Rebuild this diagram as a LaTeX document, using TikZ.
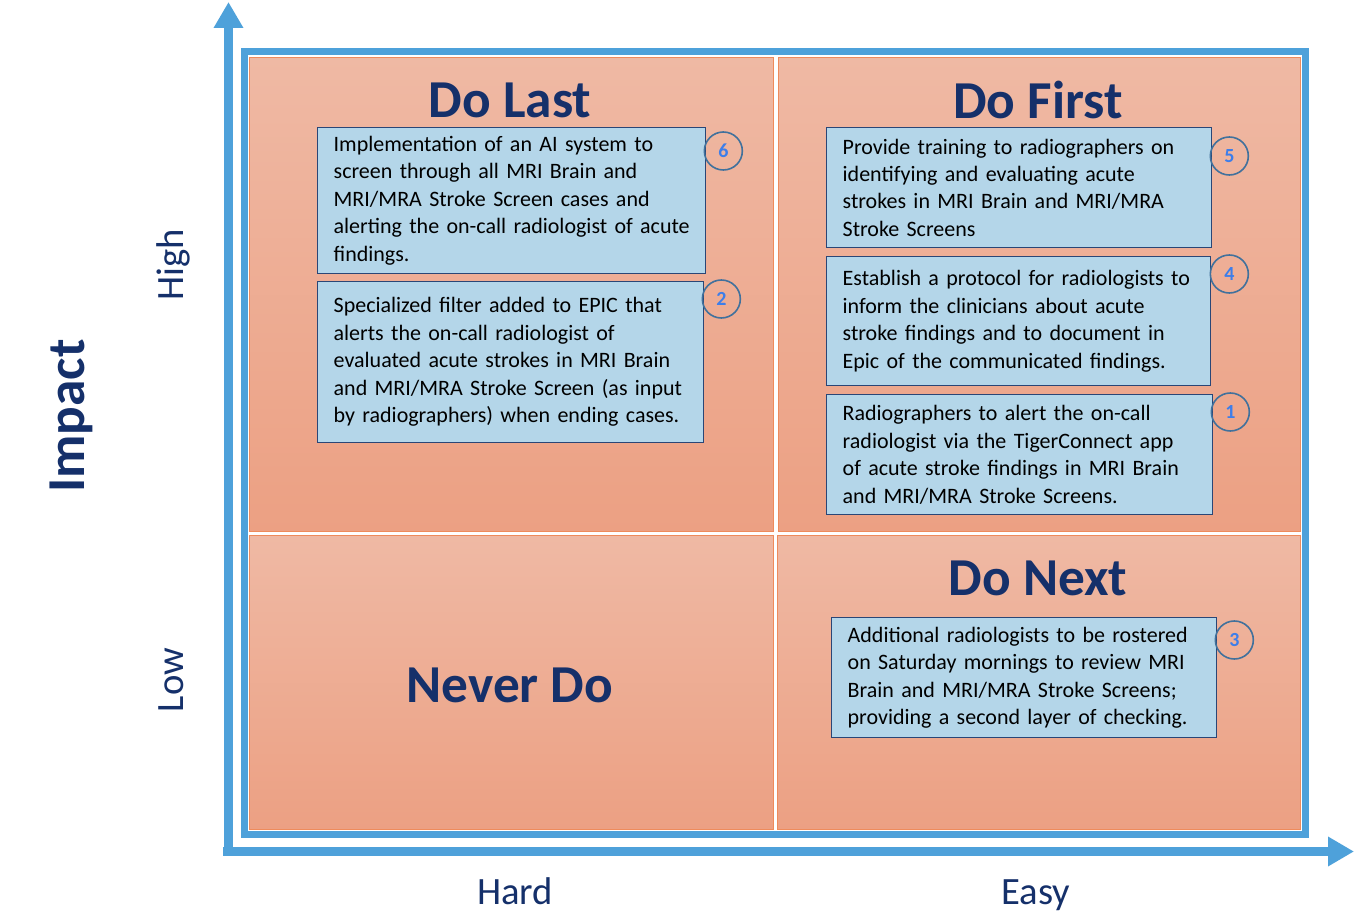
\documentclass[tikz,border=0pt]{standalone}
\usepackage{fontspec}
\setmainfont{Carlito}
\usetikzlibrary{arrows.meta,positioning}

\definecolor{axisblue}{HTML}{4EA1DA}
\definecolor{navy}{HTML}{15306A}
\definecolor{quadtop}{HTML}{EFB9A4}
\definecolor{quadbot}{HTML}{ECA083}
\definecolor{quadline}{HTML}{EE8B5C}
\definecolor{boxfill}{HTML}{B4D6E9}
\definecolor{boxline}{HTML}{2A4676}
\definecolor{circline}{HTML}{41719C}
\definecolor{numblue}{HTML}{3D7EEA}

\begin{document}
\begin{tikzpicture}[x=0.75pt,y=-0.75pt,
  quad/.style={rectangle, draw=quadline, line width=0.8pt, top color=quadtop, bottom color=quadbot, anchor=north west, inner sep=0pt},
  title/.style={text=navy, font=\bfseries\fontsize{40}{40}\selectfont},
  note/.style={rectangle, draw=boxline, line width=1pt, fill=boxfill, anchor=north west, align=left, inner xsep=12pt, inner ysep=0pt, text=black, font=\fontsize{16.5}{20.6}\selectfont},
  num/.style={circle, draw=circline, line width=1.2pt, minimum size=28.5pt, inner sep=0pt, text=numblue, font=\bfseries\fontsize{15}{15}\selectfont},
  axis/.style={draw=axisblue, line width=6.75pt, -{Triangle[length=19.5pt,width=21pt]}},
  axlabel/.style={text=navy, anchor=base, font=\fontsize{29}{29}\selectfont}]

\useasboundingbox (0,0) rectangle (1354,919);

%Frame
\draw[axisblue, line width=5.25pt] (244.5,52) rectangle (1305.5,834);

%Quadrants
\node[quad, minimum width=393pt,    minimum height=355.5pt] (tl) at (249,57)  {};
\node[quad, minimum width=391.5pt,  minimum height=355.5pt] (tr) at (778,57)  {};
\node[quad, minimum width=393pt,    minimum height=220.5pt] (bl) at (249,535) {};
\node[quad, minimum width=392.25pt, minimum height=220.5pt] (br) at (777,535) {};

\node[title] (last)  at (510,100)  {Do Last};
\node[title] (first) at (1038,100) {Do First};
\node[title] (next)  at (1038,578) {Do Next};
\node[title] (never) at (510,685)  {Never Do};

%Notes
\node[note, text width=267pt,    minimum height=109.5pt]  (b6) at (317,127) {Implementation of an AI system to\\screen through all MRI Brain and\\MRI/MRA Stroke Screen cases and\\\mbox{alerting the on-call radiologist of acute}\\findings.};
\node[note, text width=265.5pt,  minimum height=120.75pt] (b2) at (317,281) {Specialized filter added to EPIC that\\alerts the on-call radiologist of\\evaluated acute strokes in MRI Brain\\and MRI/MRA Stroke Screen (as input\\by radiographers) when ending cases.};
\node[note, text width=264.75pt, minimum height=90pt]     (b5) at (826,127) {Provide training to radiographers on\\identifying and evaluating acute\\strokes in MRI Brain and MRI/MRA\\Stroke Screens};
\node[note, text width=264pt,    minimum height=96.75pt]  (b4) at (826,256) {\mbox{Establish a protocol for radiologists to}\\inform the clinicians about acute\\stroke findings and to document in\\Epic of the communicated findings.};
\node[note, text width=265.5pt,  minimum height=90pt]     (b1) at (826,394) {Radiographers to alert the on-call\\radiologist via the TigerConnect app\\of acute stroke findings in MRI Brain\\and MRI/MRA Stroke Screens.};
\node[note, text width=264.75pt, minimum height=90pt]     (b3) at (831,617) {\mbox{Additional radiologists to be rostered}\\on Saturday mornings to review MRI\\Brain and MRI/MRA Stroke Screens;\\\mbox{providing a second layer of checking.}};

%Numbers
\node[num] (n6) at ([shift={(17,24)}]b6.north east) {6};
\node[num] (n2) at ([shift={(17,18)}]b2.north east) {2};
\node[num] (n5) at ([shift={(17,29)}]b5.north east) {5};
\node[num] (n4) at ([shift={(18,18)}]b4.north east) {4};
\node[num] (n1) at ([shift={(17,18)}]b1.north east) {1};
\node[num] (n3) at ([shift={(17,23)}]b3.north east) {3};

%Axes
\coordinate (yfoot) at (228.5,856);
\coordinate (ytip)  at (228.5,2);
\coordinate (xfoot) at (223,851.5);
\coordinate (xtip)  at (1354,851.5);
\draw[axis] (yfoot) -- (ytip);
\draw[axis] (xfoot) -- (xtip);

\node[axlabel] (hard) at (515,904)  {Hard};
\node[axlabel] (easy) at (1036,904) {Easy};
\node[axlabel, rotate=90] (high) at (183,265) {High};
\node[axlabel, rotate=90] (low)  at (183,680) {Low};
\node[text=navy, anchor=base, font=\bfseries\fontsize{40}{40}\selectfont, rotate=90] (impact) at (84,416) {Impact};

\end{tikzpicture}
\end{document}
